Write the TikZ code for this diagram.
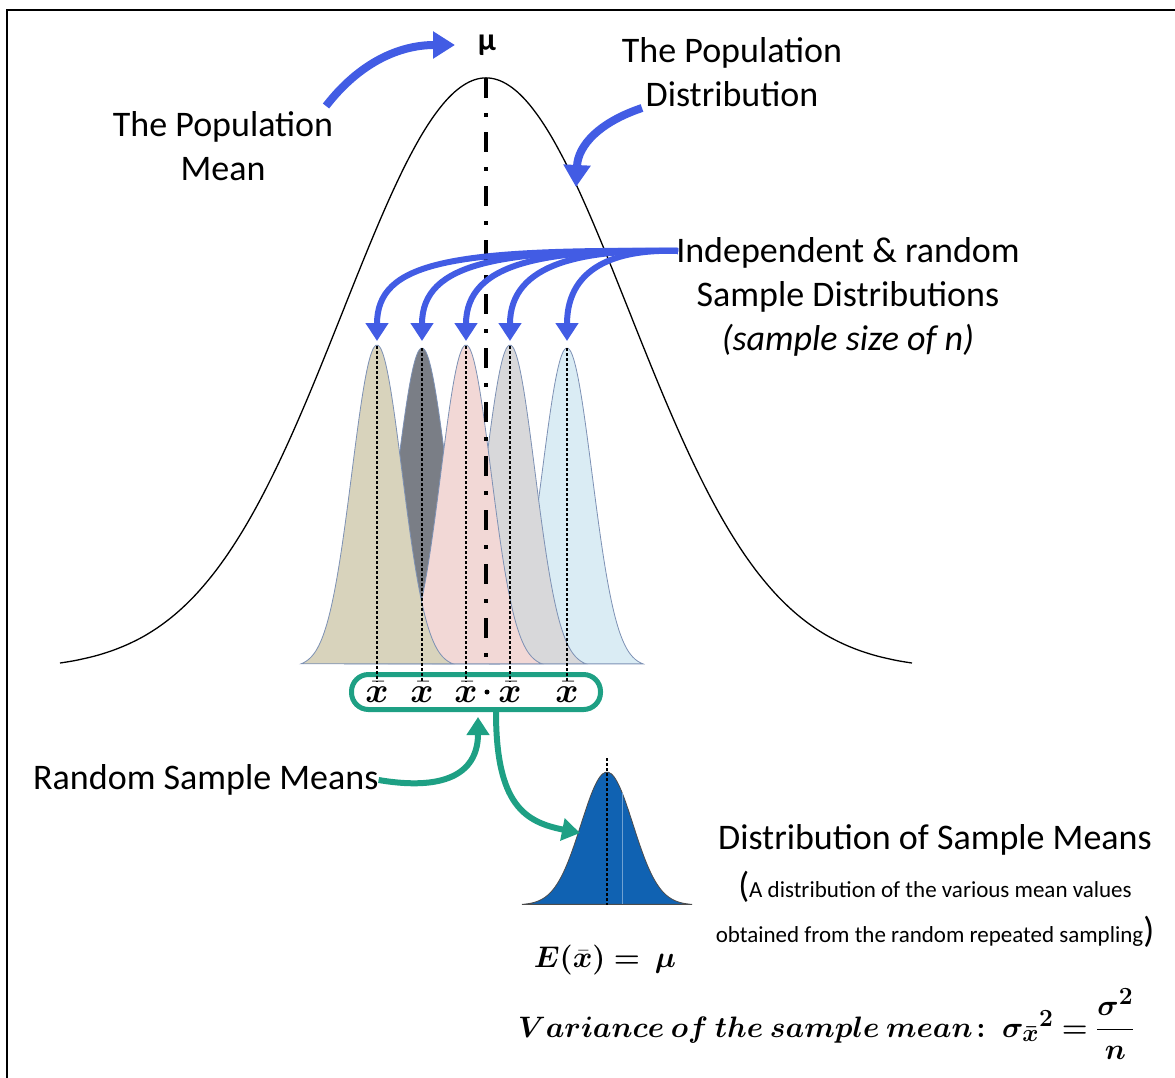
\documentclass[tikz,border=0pt]{standalone}
\usepackage{fontspec}
\setmainfont{Carlito}
\usepackage{amsmath,bm}
\usetikzlibrary{arrows.meta, positioning}

\definecolor{arrowblue}{RGB}{66,92,228}
\definecolor{meangreen}{RGB}{30,160,132}
\definecolor{distblue}{RGB}{16,98,178}
\definecolor{sampedge}{RGB}{125,145,180}
\definecolor{samptan}{RGB}{216,211,188}
\definecolor{sampdark}{RGB}{122,126,134}
\definecolor{samppink}{RGB}{242,216,214}
\definecolor{sampgray}{RGB}{216,216,218}
\definecolor{sampblue}{RGB}{218,236,244}

\newcommand{\meanbar}{$\bm{\bar{x}}$}

\tikzset{
  bigtext/.style={font=\fontsize{36}{44}\selectfont, align=center, inner sep=0pt},
  notetext/.style={font=\fontsize{23}{23}\selectfont, inner sep=0pt},
  mathtext/.style={font=\fontsize{24.88}{24.88}\selectfont, inner sep=0pt, scale=1.2},
  bluearrow/.style={draw=arrowblue, line width=8pt, -{Triangle[length=22pt, width=26pt]}},
  samplearrow/.style={draw=arrowblue, line width=6pt, -{Triangle[length=18pt, width=22pt]}},
  greenarrow/.style={draw=meangreen, line width=6pt, -{Triangle[length=18pt, width=22pt]}},
  meandots/.style={line width=2.5pt, dash pattern=on 2.5pt off 2.5pt},
  barlabel/.style={font=\fontsize{20.74}{20.74}\selectfont, inner sep=0pt, scale=1.7}
}

\begin{document}
\begin{tikzpicture}[x=1pt, y=-1pt]
  \useasboundingbox (0,0) rectangle (1175,1077);
  \draw[line width=2.5pt] (7,1080) -- (7,10) -- (1180,10);

  % population curve
  \draw[line width=1.3pt] plot[domain=60:912, samples=150, smooth] (\x, {670-592*exp(-0.5*((\x-486)/143)^2)});

  % sample distributions
  \foreach \xm/\pk/\col in {567/348/sampblue, 510/345/sampgray, 422/348/sampdark, 466/345/samppink, 377/345/samptan}
    \filldraw[fill=\col, draw=sampedge, line width=0.8pt] plot[domain={\xm-76}:{\xm+76}, samples=60, smooth] (\x, {667-(667-\pk)*exp(-0.5*((\x-\xm)/25)^2)}) -- cycle;

  % mean line
  \draw[line width=4.5pt, dash pattern=on 20pt off 15pt on 4pt off 15pt] (486,78) -- (486,670);
  \fill (487,692) circle (2.5pt);

  \node[font=\bfseries\fontsize{32}{32}\selectfont] (mu) at (487,45) {µ};
  \node[bigtext] (popmean) at (223,146) {The Population\\Mean};
  \node[bigtext] (popdist) at (732,72) {The Population\\Distribution};
  \node[bigtext] (indep) at (848,297) {Independent \& random\\Sample Distributions\\{\itshape (sample size of n)}};

  % oval of sample means
  \node[draw=meangreen, line width=5pt, rounded corners=17pt, minimum width=249pt, minimum height=35pt] (oval) at (476,692) {};
  \node[barlabel] (xba) at (377,692) {\meanbar};
  \node[barlabel] (xbb) at (422,692) {\meanbar};
  \node[barlabel] (xbc) at (466,692) {\meanbar};
  \node[barlabel] (xbd) at (510,692) {\meanbar};
  \node[barlabel] (xbe) at (567,692) {\meanbar};
  \coordinate (pka) at (377,341);
  \coordinate (pkb) at (422,341);
  \coordinate (pkc) at (466,341);
  \coordinate (pkd) at (510,341);
  \coordinate (pke) at (567,341);
  \draw[meandots] (377,346) -- (xba.north);
  \draw[meandots] (422,348) -- (xbb.north);
  \draw[meandots] (466,346) -- (xbc.north);
  \draw[meandots] (510,346) -- (xbd.north);
  \draw[meandots] (567,348) -- (xbe.north);

  % arrows
  \coordinate (mutail) at (326,106);
  \coordinate (mutip) at (455,45);
  \draw[bluearrow] (mutail) .. controls (360,62) and (400,45) .. (mutip);
  \coordinate (disttail) at (642,108);
  \coordinate (disttip) at (576,187);
  \draw[bluearrow] (disttail) .. controls (600,122) and (578,145) .. (disttip);
  \coordinate (samptail) at (678,251);
  \draw[samplearrow] (samptail) .. controls (450,249) and (377,262) .. (pka);
  \draw[samplearrow] (samptail) .. controls (500,249) and (422,262) .. (pkb);
  \draw[samplearrow] (samptail) .. controls (545,249) and (466,262) .. (pkc);
  \draw[samplearrow] (samptail) .. controls (585,249) and (510,262) .. (pkd);
  \draw[samplearrow] (samptail) .. controls (625,249) and (567,262) .. (pke);

  % distribution of sample means
  \filldraw[fill=distblue, draw=black!70, line width=0.8pt] plot[domain=522:692, samples=60, smooth] (\x, {905-133*exp(-0.5*((\x-607)/26)^2)}) -- cycle;
  \draw[distblue!60!white, line width=1pt] (622,793) -- (622,904);
  \coordinate (sdpeak) at (607,758);
  \coordinate (sdbase) at (607,905);
  \draw[meandots] (sdpeak) -- (sdbase);

  \node[bigtext, anchor=west] (rsm) at (33,780) {Random Sample Means};
  \coordinate (ovalin) at (478,717);
  \coordinate (ovalout) at (496,712);
  \coordinate (sdtip) at (580,833);
  \draw[greenarrow] (rsm.east) .. controls (450,792) and (478,770) .. (ovalin);
  \draw[greenarrow] (ovalout) .. controls (496,805) and (525,822) .. (sdtip);

  \node[bigtext] (dsm) at (935,840) {Distribution of Sample Means};
  \node[notetext] (note1) at (935,887) {{\fontsize{36}{36}\selectfont(}A distribution of the various mean values};
  \node[notetext] (note2) at (935,932) {obtained from the random repeated sampling{\fontsize{36}{36}\selectfont)}};

  \node[mathtext] (expect) at (605,960) {$\bm{E(\bar{x}) =\ \mu}$};
  \node[mathtext, scale=0.99, anchor=west] (variance) at (518,1024) {$\bm{Variance\ of\ the\ sample\ mean\colon\ \sigma_{\bar{x}}{}^{2} = \dfrac{\sigma^{2}}{n}}$};
\end{tikzpicture}
\end{document}
